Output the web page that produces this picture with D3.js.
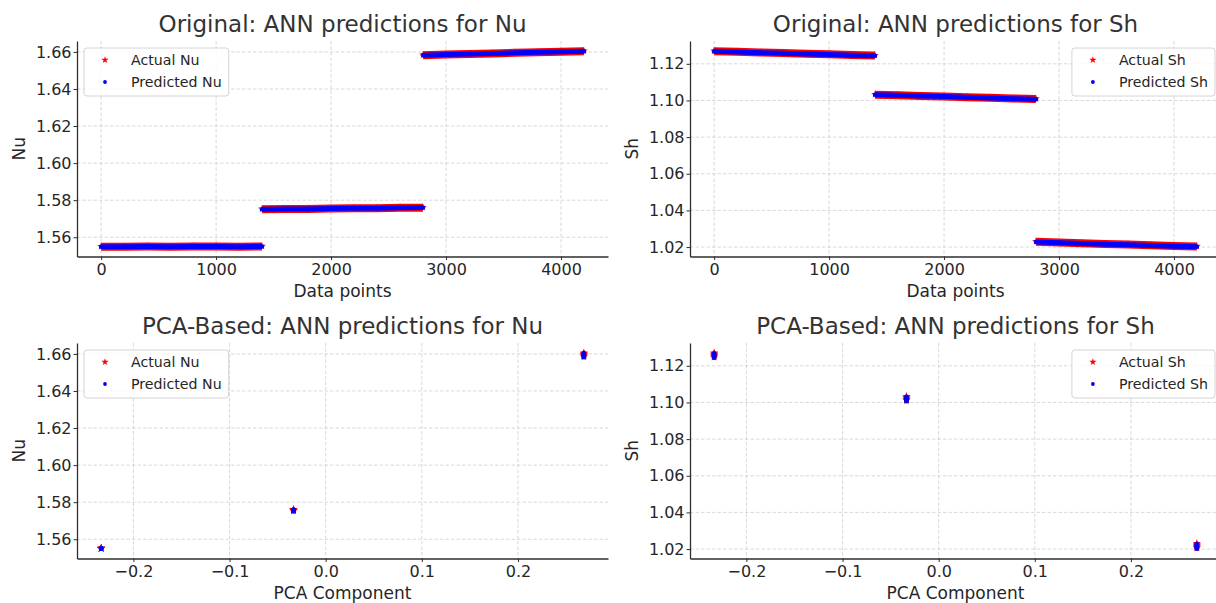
<!DOCTYPE html>
<html><head><meta charset="utf-8">
<script src="https://cdn.jsdelivr.net/npm/d3@7"></script>
<style>
body{margin:0;background:#fff}
svg{display:block}
text{font-family:"DejaVu Sans",sans-serif;fill:#262626}
</style>
</head><body><svg id="c" width="1216" height="603"></svg>
<script>
// ---------------- data ----------------
const segmentStarts = [0, 1400, 2800];
const sampleOffsets = [0, 200, 400, 600, 800, 1000, 1200, 1399];
const pcaComponent = [-0.2336, -0.0335, 0.2686];

const nuActual = [
  [1.5551, 1.5551, 1.5552, 1.5551, 1.5552, 1.5552, 1.5551, 1.5552],
  [1.5753, 1.5754, 1.5755, 1.5757, 1.5758, 1.5759, 1.5761, 1.5762],
  [1.6584, 1.6588, 1.6591, 1.6594, 1.6597, 1.6600, 1.6603, 1.6606]
];
const nuPredicted = [
  [1.5549, 1.5549, 1.5550, 1.5549, 1.5550, 1.5550, 1.5549, 1.5550],
  [1.5751, 1.5752, 1.5753, 1.5755, 1.5756, 1.5757, 1.5759, 1.5760],
  [1.6582, 1.6586, 1.6589, 1.6592, 1.6595, 1.6598, 1.6601, 1.6604]
];
const shActual = [
  [1.1271, 1.1268, 1.1264, 1.1261, 1.1257, 1.1254, 1.1250, 1.1247],
  [1.1034, 1.1031, 1.1027, 1.1024, 1.1020, 1.1017, 1.1013, 1.1010],
  [1.0231, 1.0227, 1.0223, 1.0219, 1.0216, 1.0212, 1.0208, 1.0205]
];
const shPredicted = [
  [1.1268, 1.1265, 1.1261, 1.1258, 1.1254, 1.1251, 1.1247, 1.1244],
  [1.1031, 1.1028, 1.1024, 1.1021, 1.1017, 1.1014, 1.1010, 1.1007],
  [1.0228, 1.0224, 1.0220, 1.0216, 1.0213, 1.0209, 1.0205, 1.0202]
];

const xTicksIndex = [0, 1000, 2000, 3000, 4000];
const xTicksPca = [-0.2, -0.1, 0.0, 0.1, 0.2];
const yTicksNu = [1.56, 1.58, 1.60, 1.62, 1.64, 1.66];
const yTicksSh = [1.02, 1.04, 1.06, 1.08, 1.10, 1.12];

const titles = ["Original: ANN predictions for Nu", "Original: ANN predictions for Sh",
                "PCA-Based: ANN predictions for Nu", "PCA-Based: ANN predictions for Sh"];
const xLabels = ["Data points", "Data points", "PCA Component", "PCA Component"];
const yLabels = ["Nu", "Sh", "Nu", "Sh"];
const legendLabels = [["Actual Nu", "Predicted Nu"], ["Actual Sh", "Predicted Sh"],
                      ["Actual Nu", "Predicted Nu"], ["Actual Sh", "Predicted Sh"]];

// ---------------- build ----------------
function buildPoints(actual, predicted) {
  const pts = [];
  segmentStarts.forEach((s, si) => {
    sampleOffsets.forEach((o, j) => {
      pts.push({seg: si, idx: s + o, pca: pcaComponent[si], actual: actual[si][j], pred: predicted[si][j]});
    });
  });
  return pts;
}
const nuPoints = buildPoints(nuActual, nuPredicted);
const shPoints = buildPoints(shActual, shPredicted);

const svg = d3.select("#c");
const PW = 531, PH = 215.5;
const panels = [
  {left: 77, top: 41, pts: nuPoints, xKey: "idx", xTicks: xTicksIndex, yTicks: yTicksNu, xFmt: d3.format("d"), legendRight: false, band: true},
  {left: 690, top: 41, pts: shPoints, xKey: "idx", xTicks: xTicksIndex, yTicks: yTicksSh, xFmt: d3.format("d"), legendRight: true, band: true},
  {left: 77, top: 343, pts: nuPoints, xKey: "pca", xTicks: xTicksPca, yTicks: yTicksNu, xFmt: d3.format(".1f"), legendRight: false, band: false},
  {left: 690, top: 343, pts: shPoints, xKey: "pca", xTicks: xTicksPca, yTicks: yTicksSh, xFmt: d3.format(".1f"), legendRight: true, band: false}
];

function padded(ext) { const m = (ext[1] - ext[0]) * 0.05; return [ext[0] - m, ext[1] + m]; }

const KA = 0.8908130915292852;
const legendStar = d3.symbol(d3.symbolStar, 3.85 * 3.85 / KA);
const plotStar = d3.symbol(d3.symbolStar, 4.2 * 4.2 / KA);
const LEGEND_DOT_R = 1.9, PLOT_DOT_R = 2.3;
const spineColor = "#2e2e2e";
const gridColor = "#cfcfcf";

panels.forEach((p, i) => {
  const g = svg.append("g").attr("transform", `translate(${p.left},${p.top})`);
  const x = d3.scaleLinear().domain(padded(d3.extent(p.pts, d => d[p.xKey]))).range([0, PW]);
  const yExt = [d3.min(p.pts, d => Math.min(d.actual, d.pred)), d3.max(p.pts, d => Math.max(d.actual, d.pred))];
  const y = d3.scaleLinear().domain(padded(yExt)).range([PH, 0]);

  // grid
  const grid = g.append("g").attr("stroke", gridColor).attr("stroke-width", 0.8).attr("stroke-dasharray", "3.5,2");
  grid.selectAll(".gx").data(p.xTicks).join("line")
    .attr("x1", d => x(d)).attr("x2", d => x(d)).attr("y1", 0).attr("y2", PH);
  grid.selectAll(".gy").data(p.yTicks).join("line")
    .attr("x1", 0).attr("x2", PW).attr("y1", d => y(d)).attr("y2", d => y(d));

  // data
  const dataG = g.append("g");
  const xv = d => x(d[p.xKey]);
  if (p.band) {
    const segs = d3.groups(p.pts, d => d.seg).map(e => e[1]);
    const lineA = d3.line().x(xv).y(d => y(d.actual) + 0.4);
    const lineP = d3.line().x(xv).y(d => y(d.pred));
    dataG.selectAll(".ba").data(segs).join("path").attr("d", lineA)
      .attr("fill", "none").attr("stroke", "#ff0000").attr("stroke-width", 8).attr("stroke-linejoin", "round");
    dataG.selectAll(".sa").data(p.pts).join("path").attr("d", plotStar)
      .attr("transform", d => `translate(${xv(d)},${y(d.actual)})`).attr("fill", "#ff0000");
    dataG.selectAll(".bp").data(segs).join("path").attr("d", lineP)
      .attr("fill", "none").attr("stroke", "#0000ff").attr("stroke-width", 5).attr("stroke-linejoin", "round");
  } else {
    dataG.selectAll(".sa").data(p.pts).join("path").attr("d", plotStar)
      .attr("transform", d => `translate(${xv(d)},${y(d.actual)})`).attr("fill", "#ff0000");
  }
  dataG.selectAll(".dp").data(p.pts).join("circle")
    .attr("cx", xv).attr("cy", d => y(d.pred)).attr("r", PLOT_DOT_R).attr("fill", "#0000ff");

  // axes
  const ax = g.append("g").attr("transform", `translate(0,${PH})`)
    .call(d3.axisBottom(x).tickValues(p.xTicks).tickFormat(p.xFmt).tickSize(3.5).tickSizeOuter(0).tickPadding(3.5));
  const ay = g.append("g")
    .call(d3.axisLeft(y).tickValues(p.yTicks).tickFormat(d3.format(".2f")).tickSize(3.5).tickSizeOuter(0).tickPadding(2));
  [ax, ay].forEach(a => {
    a.select(".domain").attr("stroke", spineColor).attr("stroke-width", 1.3);
    a.selectAll(".tick line").attr("stroke", spineColor).attr("stroke-width", 1);
    a.selectAll(".tick text").attr("font-size", 16).attr("fill", "#262626").attr("font-family", "DejaVu Sans");
  });

  // title & labels
  g.append("text").attr("x", PW / 2).attr("y", -9.5).attr("text-anchor", "middle")
    .attr("font-size", 23).attr("fill", "#333333").style("fill", "#333333").text(titles[i]);
  g.append("text").attr("x", PW / 2).attr("y", PH + 40.5).attr("text-anchor", "middle")
    .attr("font-size", 17).text(xLabels[i]);
  g.append("text").attr("transform", `translate(-52,${PH / 2}) rotate(-90)`).attr("text-anchor", "middle")
    .attr("font-size", 17).text(yLabels[i]);

  // legend
  const lg = g.append("g");
  const box = lg.append("rect").attr("rx", 3).attr("ry", 3).attr("fill", "#ffffff").attr("fill-opacity", 0.8)
    .attr("stroke", "#d4d4d4").attr("stroke-width", 1);
  const t1 = lg.append("text").attr("x", 47).attr("y", 12).attr("dy", "0.35em").attr("font-size", 14.2).text(legendLabels[i][0]);
  const t2 = lg.append("text").attr("x", 47).attr("y", 34).attr("dy", "0.35em").attr("font-size", 14.2).text(legendLabels[i][1]);
  lg.append("path").attr("d", legendStar).attr("transform", "translate(21,12)").attr("fill", "#ff0000");
  lg.append("circle").attr("cx", 21).attr("cy", 34).attr("r", LEGEND_DOT_R).attr("fill", "#0000ff");
  const bw = 47 + Math.max(t1.node().getComputedTextLength(), t2.node().getComputedTextLength()) + 7;
  box.attr("width", bw).attr("height", 48);
  const lx = p.legendRight ? PW - 6 - bw : 7;
  lg.attr("transform", `translate(${lx},7)`);
});
</script>
</body></html>
